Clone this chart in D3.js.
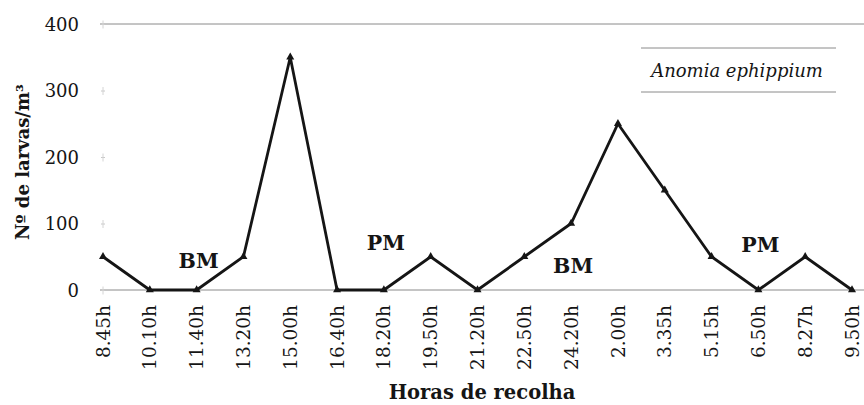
<!DOCTYPE html>
<html>
<head>
<meta charset="utf-8">
<script src="https://cdn.jsdelivr.net/npm/d3@7"></script>
<style>
  html, body { margin: 0; padding: 0; background: #fff; }
  svg { display: block; font-family: "DejaVu Serif", serif; }
</style>
</head>
<body>
<script>
// Sampling times (hours) and larval density of Anomia ephippium
const horas = ["8.45h", "10.10h", "11.40h", "13.20h", "15.00h", "16.40h", "18.20h", "19.50h",
               "21.20h", "22.50h", "24.20h", "2.00h", "3.35h", "5.15h", "6.50h", "8.27h", "9.50h"];
const larvas = [50, 0, 0, 50, 350, 0, 0, 50, 0, 50, 100, 250, 150, 50, 0, 50, 0];
const yTicks = [0, 100, 200, 300, 400];
// Tide annotations (BM = baixa-mar, PM = preia-mar), anchored on a sampling time
const mareRotulos = ["BM", "PM", "BM", "PM"];
const mareHoras   = ["11.40h", "18.20h", "24.20h", "6.50h"];
const mareNivel   = [33, 60, 26, 57];
const especie = "Anomia ephippium";

const W = 864, H = 405;
const ink = "#151515";
const svg = d3.select("body").append("svg").attr("width", W).attr("height", H);

const x = d3.scalePoint().domain(horas).range([103, 852]);
const y = d3.scaleLinear().domain([0, 400]).range([290, 24]);

// Frame lines: baseline and top edge
svg.append("line").attr("x1", 100).attr("x2", W).attr("y1", y(0)).attr("y2", y(0))
  .attr("stroke", "#8a8a8a").attr("stroke-width", 1);
svg.append("line").attr("x1", 100).attr("x2", W).attr("y1", y(400)).attr("y2", y(400))
  .attr("stroke", "#8a8a8a").attr("stroke-width", 1);

// Y axis: labels and faint tick crosses
const yAxis = svg.append("g").attr("transform", `translate(${x(horas[0])},0)`)
  .call(d3.axisLeft(y).tickValues(yTicks).tickSize(4).tickPadding(20).tickFormat(d3.format("d")));
yAxis.select(".domain").remove();
yAxis.selectAll(".tick line").attr("stroke", "#c8c8c8").attr("x2", 2).attr("x1", -2);
yAxis.selectAll(".tick").append("line").attr("y1", -4).attr("y2", 4).attr("stroke", "#d4d4d4");
yAxis.selectAll(".tick text").attr("font-family", "DejaVu Serif").attr("font-size", 18)
  .attr("fill", ink).attr("dy", "0.36em");

// X axis labels, rotated
const xAxis = svg.append("g").attr("transform", `translate(0,${y(0)})`)
  .call(d3.axisBottom(x).tickSize(0).tickPadding(0));
xAxis.select(".domain").remove();
xAxis.selectAll(".tick text")
  .attr("font-family", "DejaVu Serif").attr("font-size", 18.5).attr("fill", ink)
  .attr("text-anchor", "end").attr("dy", "0.33em").attr("y", 0)
  .attr("transform", "translate(0,15) rotate(-90)");

// Axis titles
svg.append("text").attr("x", 482).attr("y", 399).attr("text-anchor", "middle")
  .attr("font-weight", "bold").attr("font-size", 19.5).attr("fill", ink)
  .text("Horas de recolha");
svg.append("text").attr("transform", "translate(29,162) rotate(-90)").attr("text-anchor", "middle")
  .attr("font-weight", "bold").attr("font-size", 18).attr("fill", ink)
  .text("Nº de larvas/m³");

// Data line
const pts = horas.map((h, i) => ({ h, v: larvas[i] }));
svg.append("path").datum(pts)
  .attr("fill", "none").attr("stroke", ink).attr("stroke-width", 2.8)
  .attr("stroke-linejoin", "miter")
  .attr("d", d3.line().x(d => x(d.h)).y(d => y(d.v)));

// Triangle markers
svg.append("g").selectAll("path").data(pts).join("path")
  .attr("transform", d => `translate(${x(d.h)},${y(d.v)})`)
  .attr("d", d3.symbol(d3.symbolTriangle, 28))
  .attr("fill", ink);

// Tide annotations
const mares = mareRotulos.map((t, i) => ({ t, h: mareHoras[i], v: mareNivel[i] }));
svg.append("g").selectAll("text").data(mares).join("text")
  .attr("x", d => x(d.h) + 2)
  .attr("y", d => y(d.v))
  .attr("text-anchor", "middle").attr("font-weight", "bold").attr("font-size", 20.5).attr("fill", ink)
  .text(d => d.t);

// Legend box
const lg = svg.append("g");
lg.append("line").attr("x1", 641).attr("x2", 836).attr("y1", 48).attr("y2", 48).attr("stroke", "#8a8a8a");
lg.append("line").attr("x1", 641).attr("x2", 836).attr("y1", 92).attr("y2", 92).attr("stroke", "#8a8a8a");
lg.append("text").attr("x", 737).attr("y", 77).attr("text-anchor", "middle")
  .attr("font-style", "italic").attr("font-size", 18).attr("fill", ink).text(especie);
</script>
</body>
</html>
